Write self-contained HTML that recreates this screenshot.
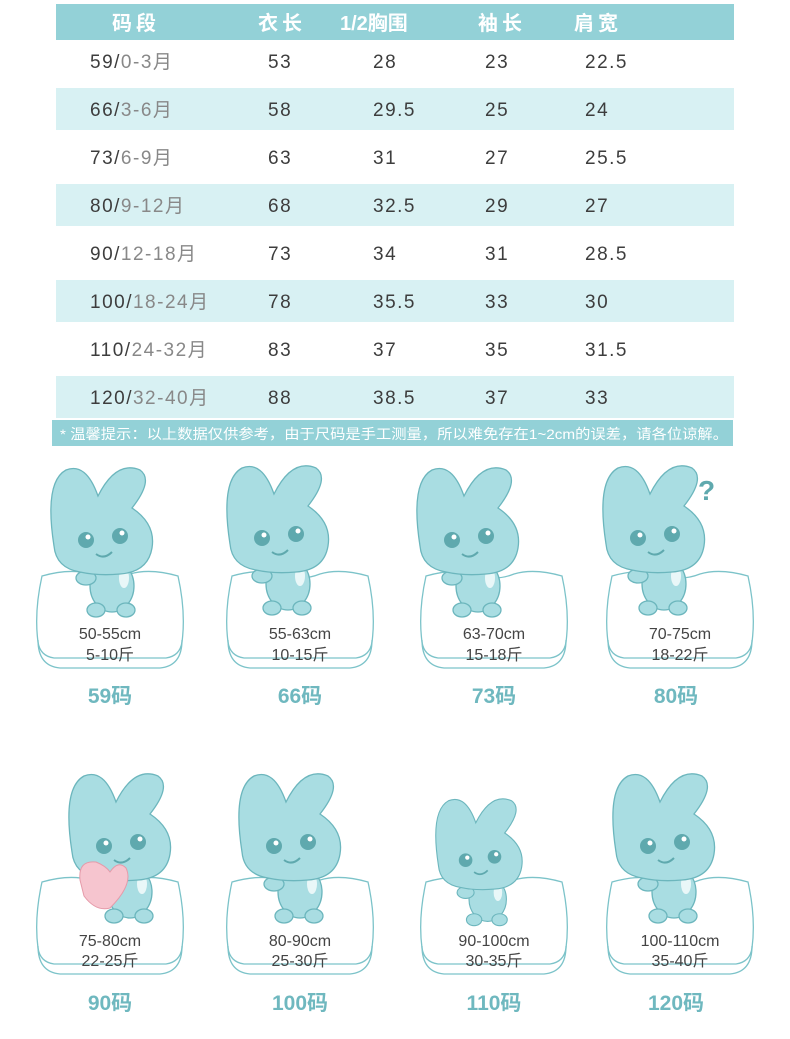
<!DOCTYPE html>
<html><head><meta charset="utf-8"><style>
html,body{margin:0;padding:0;background:#fff;}
svg{display:block;}
text{font-family:"Liberation Sans","Noto Sans CJK SC",sans-serif;}
</style></head><body>
<svg width="790" height="1039" viewBox="0 0 790 1039" xmlns="http://www.w3.org/2000/svg">
<defs>
<g id="cush">
  <path d="M-68,-46 Q-40,-54 -20,-48 Q0,-40 20,-48 Q40,-54 68,-46 Q76,-10 72,20 Q70,34 56,36 L-56,36 Q-70,34 -72,20 Q-76,-10 -68,-46Z" fill="#fff" stroke="#7cc3c9" stroke-width="1.3"/>
  <path d="M-72,18 Q-72,44 -50,46 L50,46 Q72,44 72,18" fill="none" stroke="#7cc3c9" stroke-width="1.3"/>
</g>
<g id="bun">
  <ellipse cx="2" cy="-22" rx="22" ry="26" fill="#a9dde2" stroke="#6cb6bd" stroke-width="1.3"/>
  <ellipse cx="-14" cy="2" rx="9" ry="7" fill="#a9dde2" stroke="#6cb6bd" stroke-width="1.3"/>
  <ellipse cx="16" cy="2" rx="9" ry="7" fill="#a9dde2" stroke="#6cb6bd" stroke-width="1.3"/>
  <ellipse cx="-24" cy="-30" rx="10" ry="7" fill="#a9dde2" stroke="#6cb6bd" stroke-width="1.3"/>
  <ellipse cx="14" cy="-30" rx="5" ry="10" fill="#e9f7f8"/>
  <path d="M-56,-62 Q-66,-126 -44,-138 Q-24,-146 -12,-112 Q6,-148 30,-138 Q44,-128 22,-100 Q46,-84 42,-60 Q38,-36 10,-34 Q-12,-32 -30,-36 Q-54,-40 -56,-62Z" fill="#a9dde2" stroke="#6cb6bd" stroke-width="1.3"/>
  <circle cx="-24" cy="-68" r="8" fill="#5fa9ae"/><circle cx="10" cy="-72" r="8" fill="#5fa9ae"/>
  <circle cx="-22" cy="-71" r="2.5" fill="#fff"/><circle cx="12" cy="-75" r="2.5" fill="#fff"/>
  <path d="M-14,-54 Q-6,-48 2,-56" fill="none" stroke="#5fa9ae" stroke-width="2"/>
</g>
</defs>
<rect x="56" y="4" width="678" height="36" fill="#93d1d7"/>
<g font-size="20" font-weight="bold" fill="#fff">
<text x="112" y="30" letter-spacing="4">码段</text>
<text x="258" y="30" letter-spacing="4">衣长</text>
<text x="340" y="30">1/2胸围</text>
<text x="478" y="30" letter-spacing="4">袖长</text>
<text x="574" y="30" letter-spacing="4">肩宽</text>
</g>
<g fill="#d8f1f3">
<rect x="56" y="88" width="678" height="42"/>
<rect x="56" y="184" width="678" height="42"/>
<rect x="56" y="280" width="678" height="42"/>
<rect x="56" y="376" width="678" height="42"/>
</g>
<g font-size="19" fill="#3d3d3d" letter-spacing="1.5">
<text x="90" y="68">59/<tspan fill="#888">0-3月</tspan></text><text x="268" y="68">53</text><text x="373" y="68">28</text><text x="485" y="68">23</text><text x="585" y="68">22.5</text>
<text x="90" y="116">66/<tspan fill="#888">3-6月</tspan></text><text x="268" y="116">58</text><text x="373" y="116">29.5</text><text x="485" y="116">25</text><text x="585" y="116">24</text>
<text x="90" y="164">73/<tspan fill="#888">6-9月</tspan></text><text x="268" y="164">63</text><text x="373" y="164">31</text><text x="485" y="164">27</text><text x="585" y="164">25.5</text>
<text x="90" y="212">80/<tspan fill="#888">9-12月</tspan></text><text x="268" y="212">68</text><text x="373" y="212">32.5</text><text x="485" y="212">29</text><text x="585" y="212">27</text>
<text x="90" y="260">90/<tspan fill="#888">12-18月</tspan></text><text x="268" y="260">73</text><text x="373" y="260">34</text><text x="485" y="260">31</text><text x="585" y="260">28.5</text>
<text x="90" y="308">100/<tspan fill="#888">18-24月</tspan></text><text x="268" y="308">78</text><text x="373" y="308">35.5</text><text x="485" y="308">33</text><text x="585" y="308">30</text>
<text x="90" y="356">110/<tspan fill="#888">24-32月</tspan></text><text x="268" y="356">83</text><text x="373" y="356">37</text><text x="485" y="356">35</text><text x="585" y="356">31.5</text>
<text x="90" y="404">120/<tspan fill="#888">32-40月</tspan></text><text x="268" y="404">88</text><text x="373" y="404">38.5</text><text x="485" y="404">37</text><text x="585" y="404">33</text>
</g>
<rect x="52" y="420" width="681" height="26" fill="#93d1d7"/>
<text x="60" y="439" font-size="14" fill="#fff" textLength="668" lengthAdjust="spacingAndGlyphs">* 温馨提示：以上数据仅供参考，由于尺码是手工测量，所以难免存在1~2cm的误差，请各位谅解。</text>

<g transform="translate(110,622)"><use href="#cush"/></g>
<g transform="translate(300,622)"><use href="#cush"/></g>
<g transform="translate(494,622)"><use href="#cush"/></g>
<g transform="translate(680,622)"><use href="#cush"/></g>
<g transform="translate(110,928)"><use href="#cush"/></g>
<g transform="translate(300,928)"><use href="#cush"/></g>
<g transform="translate(494,928)"><use href="#cush"/></g>
<g transform="translate(680,928)"><use href="#cush"/></g>

<g transform="translate(110,608)"><use href="#bun"/></g>
<g transform="translate(286,606)"><use href="#bun"/></g>
<g transform="translate(476,608)"><use href="#bun"/></g>
<g transform="translate(662,606)"><use href="#bun"/></g>
<g transform="translate(128,914)"><use href="#bun"/></g>
<g transform="translate(298,914)"><use href="#bun"/></g>
<g transform="translate(486,918) scale(0.85)"><use href="#bun"/></g>
<g transform="translate(672,914)"><use href="#bun"/></g>
<path d="M80,880 Q78,860 96,862 Q106,866 110,872 Q118,860 126,868 Q134,884 110,908 Q96,912 84,896Z" fill="#f6c5cf" stroke="#e59aa9"/>
<text x="698" y="500" font-size="28" font-weight="bold" fill="#5fa9ae">?</text>

<g font-size="16" fill="#444" text-anchor="middle">
<text x="110" y="639">50-55cm</text><text x="110" y="660">5-10斤</text>
<text x="300" y="639">55-63cm</text><text x="300" y="660">10-15斤</text>
<text x="494" y="639">63-70cm</text><text x="494" y="660">15-18斤</text>
<text x="680" y="639">70-75cm</text><text x="680" y="660">18-22斤</text>
<text x="110" y="946">75-80cm</text><text x="110" y="966">22-25斤</text>
<text x="300" y="946">80-90cm</text><text x="300" y="966">25-30斤</text>
<text x="494" y="946">90-100cm</text><text x="494" y="966">30-35斤</text>
<text x="680" y="946">100-110cm</text><text x="680" y="966">35-40斤</text>
</g>
<g font-size="21" font-weight="bold" fill="#6fb8bf" text-anchor="middle">
<text x="110" y="703">59码</text><text x="300" y="703">66码</text><text x="494" y="703">73码</text><text x="676" y="703">80码</text>
<text x="110" y="1010">90码</text><text x="300" y="1010">100码</text><text x="494" y="1010">110码</text><text x="676" y="1010">120码</text>
</g>
</svg>
</body></html>
